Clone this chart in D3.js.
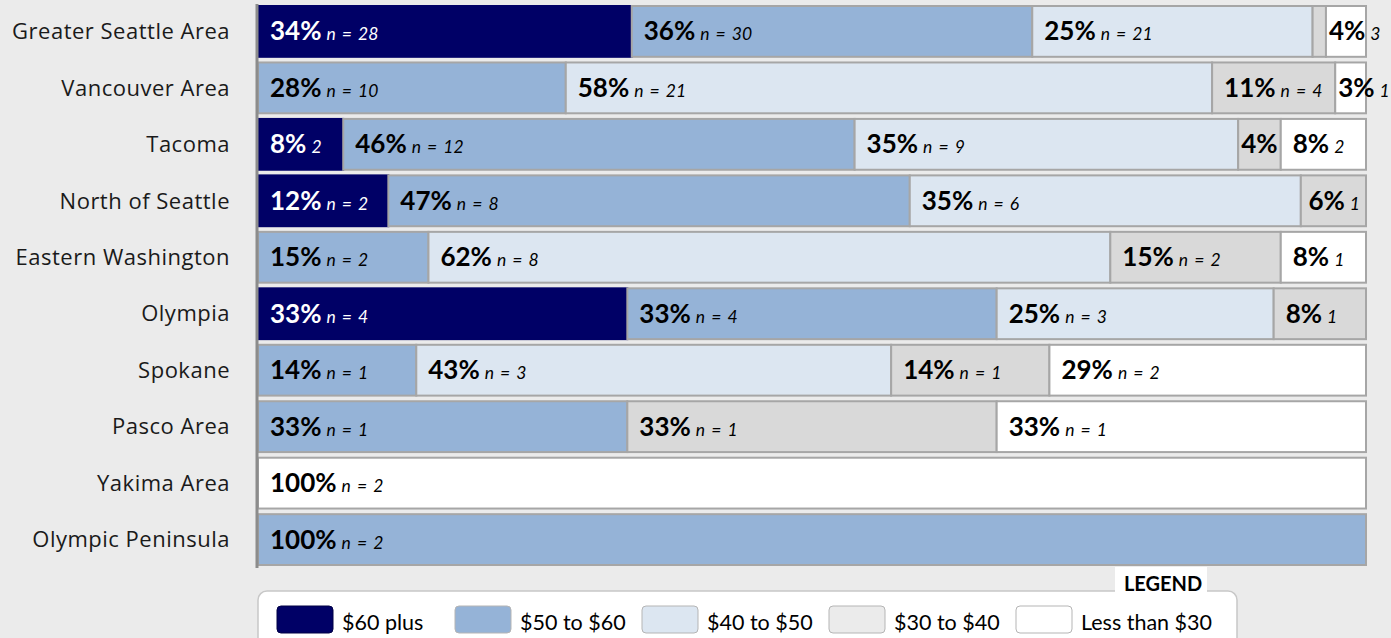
<!DOCTYPE html>
<html>
<head>
<meta charset="utf-8">
<script src="https://cdn.jsdelivr.net/npm/d3@7"></script>
<style>
  body { margin: 0; background: #ebebeb; }
  svg { display: block; }
  .cat text { font-family: "Open Sans", sans-serif; font-size: 22px; letter-spacing: 0.5px; fill: #1a1a1a; }
</style>
</head>
<body>
<div id="chart"></div>
<script>
(function () {

  var width = 1391,
      height = 638;

  // data - counts per region, in order of the price buckets
  var regions = ["Greater Seattle Area", "Vancouver Area", "Tacoma", "North of Seattle",
    "Eastern Washington", "Olympia", "Spokane", "Pasco Area", "Yakima Area", "Olympic Peninsula"];
  var buckets = ["$60 plus", "$50 to $60", "$40 to $50", "$30 to $40", "Less than $30"];
  var colors = ["#000066", "#95b3d7", "#dce6f1", "#d9d9d9", "#ffffff"];
  var legendColors = ["#000066", "#95b3d7", "#dce6f1", "#ebebeb", "#ffffff"];

  var plus60 = [28, 0, 2, 2, 0, 4, 0, 0, 0, 0];
  var from50 = [30, 10, 12, 8, 2, 4, 1, 1, 0, 2];
  var from40 = [21, 21, 9, 6, 8, 3, 3, 0, 0, 0];
  var from30 = [1, 4, 1, 1, 2, 1, 1, 1, 0, 0];
  var under30 = [3, 1, 2, 0, 1, 0, 2, 1, 2, 0];

  // how each segment got labelled in the original: f = "n = x", s = just x, p = % only, - = nothing
  var labelModes = [
    ["f", "f", "f", "-", "s"],
    ["-", "f", "f", "f", "s"],
    ["s", "f", "f", "p", "s"],
    ["f", "f", "f", "s", "-"],
    ["-", "f", "f", "f", "s"],
    ["f", "f", "f", "s", "-"],
    ["-", "f", "f", "f", "f"],
    ["-", "f", "-", "f", "f"],
    ["-", "-", "-", "-", "f"],
    ["-", "f", "-", "-", "-"]
  ];

  var series = [plus60, from50, from40, from30, under30];

  var svg = d3.select("#chart")
    .append("svg")
    .attr("width", width)
    .attr("height", height);

  var left = 258, right = 1366, top = 6, bottom = 565;

  var x = d3.scaleLinear().domain([0, 1]).range([left, right]);
  var y = d3.scaleBand().domain(regions).range([top, bottom]).paddingInner(0.1);

  // build the stacked segments
  var rows = regions.map(function (r, i) {
    var total = d3.sum(series, function (s) { return s[i]; });
    var acc = 0;
    var segs = [];
    series.forEach(function (s, k) {
      var n = s[i];
      if (n > 0) {
        segs.push({ region: r, k: k, n: n, p: n / total, x0: acc / total, x1: (acc + n) / total, mode: labelModes[i][k] });
      }
      acc += n;
    });
    return { region: r, segs: segs };
  });

  var row = svg.selectAll(".row")
    .data(rows)
    .enter().append("g")
    .attr("class", "row")
    .attr("transform", function (d) { return "translate(0," + y(d.region) + ")"; });

  var seg = row.selectAll(".seg")
    .data(function (d) { return d.segs; })
    .enter().append("g")
    .attr("class", "seg");

  seg.append("rect")
    .attr("x", function (d) { return x(d.x0); })
    .attr("width", function (d) { return x(d.x1) - x(d.x0); })
    .attr("height", y.bandwidth())
    .attr("fill", function (d) { return colors[d.k]; })
    .attr("stroke", function (d) { return d.k === 0 ? "#000066" : "#a6a6a6"; })
    .attr("stroke-width", 2);

  // labels
  var lab = seg.filter(function (d) { return d.mode !== "-"; })
    .append("text")
    .attr("x", function (d) {
      var w = x(d.x1) - x(d.x0);
      return x(d.x0) + Math.min(12, Math.max(3, (w - 50) / 2));
    })
    .attr("y", y.bandwidth() / 2 + 9)
    .attr("fill", function (d) { return d.k === 0 ? "#fff" : "#000"; })
    .style("font-family", "Lato, sans-serif");

  lab.append("tspan")
    .style("font-weight", "bold")
    .style("font-size", "26px")
    .text(function (d) { return Math.round(d.p * 100) + "%"; });

  lab.filter(function (d) { return d.mode === "f" || d.mode === "s"; })
    .append("tspan")
    .attr("dx", 5)
    .style("font-style", "italic")
    .style("font-size", "17.5px")
    .style("word-spacing", "2px")
    .text(function (d) { return d.mode === "f" ? "n = " + d.n : d.n; });

  // left axis with region names
  var axis = svg.append("g")
    .attr("class", "cat")
    .attr("transform", "translate(" + (left - 1) + ",0)")
    .call(d3.axisLeft(y).tickSize(0).tickPadding(27));

  axis.select(".domain")
    .attr("d", "M0,4V568")
    .attr("stroke", "#8c8c8c")
    .attr("stroke-width", 3);

  axis.selectAll("text").attr("dy", "0.35em");

  // legend
  var legend = svg.append("g");

  legend.append("rect")
    .attr("x", left)
    .attr("y", 591)
    .attr("width", 979)
    .attr("height", 80)
    .attr("rx", 9)
    .attr("fill", "#fff")
    .attr("stroke", "#c8c8c8")
    .attr("stroke-width", 1.5);

  legend.append("rect")
    .attr("x", 1115)
    .attr("y", 567)
    .attr("width", 92)
    .attr("height", 30)
    .attr("fill", "#fff");

  legend.append("text")
    .attr("x", 1163)
    .attr("y", 591)
    .attr("text-anchor", "middle")
    .style("font-family", "Lato, sans-serif")
    .style("font-weight", "bold")
    .style("font-size", "20px")
    .text("LEGEND");

  var lx = d3.scaleBand().domain(buckets).range([268, 1203]).paddingOuter(0);

  var item = legend.selectAll(".item")
    .data(buckets)
    .enter().append("g")
    .attr("class", "item")
    .attr("transform", function (d, i) { return "translate(" + (i === 0 ? 277 : lx(d)) + ",606)"; });

  item.append("rect")
    .attr("width", 56)
    .attr("height", 27)
    .attr("rx", 4)
    .attr("fill", function (d, i) { return legendColors[i]; })
    .attr("stroke", function (d, i) { return i === 0 ? "#000044" : "#b5b5b5"; });

  item.append("text")
    .attr("x", 65)
    .attr("y", 24)
    .style("font-family", "Lato, sans-serif")
    .style("font-size", "21.5px")
    .text(function (d) { return d; });

})();
</script>
</body>
</html>
